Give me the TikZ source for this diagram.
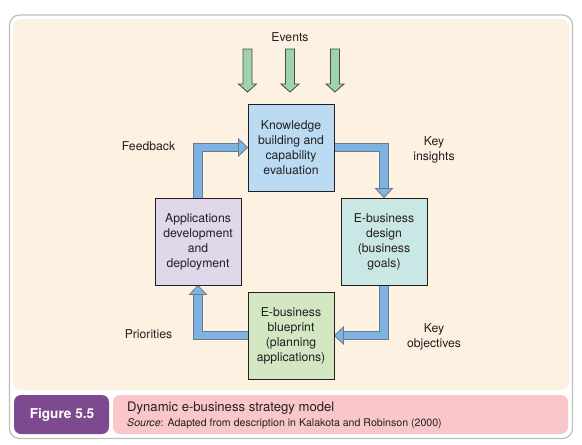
\documentclass[tikz,border=0pt]{standalone}
\usepackage{fontspec}
\setmainfont{TeX Gyre Heros}
\usetikzlibrary{calc}
\definecolor{peach}{HTML}{FDF1E2}
\definecolor{framegray}{HTML}{BEBEBE}
\definecolor{knowc}{HTML}{BBDBF3}
\definecolor{designc}{HTML}{C9E7E4}
\definecolor{appc}{HTML}{E1D7EB}
\definecolor{bluepc}{HTML}{D2E7C2}
\definecolor{figpurple}{HTML}{7D4A8F}
\definecolor{figpink}{HTML}{F9C7C9}
\definecolor{txt}{HTML}{231F20}
\definecolor{arrowblue}{HTML}{7DB3E3}
\definecolor{arrowedge}{HTML}{6C7A88}
\definecolor{evgreen}{HTML}{9ED3AD}
\definecolor{evedge}{HTML}{4A4A4A}
\pgfdeclarelayer{framelayer}
\pgfdeclarelayer{arrowlayer}
\pgfsetlayers{framelayer,arrowlayer,main}
\tikzset{
  stagebox/.style={draw=txt, line width=0.9pt, minimum width=86pt, minimum height=87pt,
    inner sep=0pt, align=center, text=txt, font=\fontsize{12.2}{15}\selectfont},
  lbl/.style={align=center, text=txt, inner sep=0pt, font=\fontsize{12.2}{15}\selectfont},
  shaft/.style={draw=arrowedge, double=arrowblue, double distance=7.5pt, line width=0.8pt, line join=miter},
  bhead/.style={draw=arrowedge, fill=arrowblue, line width=0.8pt, line join=miter},
  ghead/.style={draw=evedge, fill=evgreen, line width=0.8pt, line join=miter}
}
\begin{document}
\begin{tikzpicture}[x=1pt,y=-1pt]
\useasboundingbox (0,0) rectangle (582,445);
\begin{pgfonlayer}{framelayer}
\draw[framegray, line width=1.2pt, fill=white, rounded corners=10pt] (9.5,15) rectangle (572.5,438.5);
\fill[peach, rounded corners=8pt] (13,19) rectangle (569,390);
\fill[figpurple, rounded corners=7pt] (14,395) rectangle (109,434);
\fill[figpink, rounded corners=7pt] (113,395) rectangle (568,434);
\end{pgfonlayer}

\node[stagebox, fill=knowc] (know) at (291,147.5) {Knowledge\\building and\\capability\\evaluation};
\node[stagebox, fill=designc] (design) at (384,241.5) {E-business\\design\\(business\\goals)};
\node[stagebox, fill=appc] (app) at (198,241.5) {Applications\\development\\and\\deployment};
\node[stagebox, fill=bluepc] (blue) at (291,335.5) {E-business\\blueprint\\(planning\\applications)};

\node[lbl] (events) at (290,37) {Events};
\node[lbl] (fb) at (148.5,146) {Feedback};
\node[lbl] (ki) at (434,149.5) {Key\\insights};
\node[lbl] (pr) at (148.5,334) {Priorities};
\node[lbl] (ko) at (434,336.5) {Key\\objectives};

\begin{pgfonlayer}{arrowlayer}
% Feedback
\draw[shaft] (app.north) |- ($(know.west)+(-8,0)$);
\draw[bhead] ($(know.west)+(-9,-8.5)$) -- (know.west) -- ($(know.west)+(-9,8.5)$) -- cycle;
% Key insights
\draw[shaft] (know.east) -| ($(design.north)+(0,-8)$);
\draw[bhead] ($(design.north)+(-8.5,-9)$) -- (design.north) -- ($(design.north)+(8.5,-9)$) -- cycle;
% Key objectives
\draw[shaft] (design.south) |- ($(blue.east)+(8,0)$);
\draw[bhead] ($(blue.east)+(9,-8.5)$) -- (blue.east) -- ($(blue.east)+(9,8.5)$) -- cycle;
% Priorities
\draw[shaft] (blue.west) -| ($(app.south)+(0,8)$);
\draw[bhead] ($(app.south)+(-8.5,9)$) -- (app.south) -- ($(app.south)+(8.5,9)$) -- cycle;
% Events arrows
\foreach \i/\x in {1/247.5,2/290,3/335}{
  \coordinate (evtop\i) at (\x,49);
  \coordinate (evtip\i) at (\x,92);
  \draw[ghead] ($(evtop\i)+(-4.5,0)$) -- ($(evtip\i)+(-4.5,-8)$) -- ($(evtip\i)+(-9,-8)$) -- (evtip\i)
     -- ($(evtip\i)+(9,-8)$) -- ($(evtip\i)+(4.5,-8)$) -- ($(evtop\i)+(4.5,0)$) -- cycle;
}
\end{pgfonlayer}

\node[text=white, inner sep=0pt, font=\fontsize{13.6}{15}\selectfont\bfseries] (fig) at (62,415) {Figure 5.5};
\node[anchor=west, text=txt, inner sep=0pt, font=\fontsize{13.1}{14}\selectfont] (title) at (127,408) {Dynamic e-business strategy model};
\node[anchor=west, text=txt, inner sep=0pt, font=\fontsize{10.6}{12}\selectfont] (src) at (127,424) {\textit{Source}: Adapted from description in Kalakota and Robinson (2000)};
\end{tikzpicture}
\end{document}
